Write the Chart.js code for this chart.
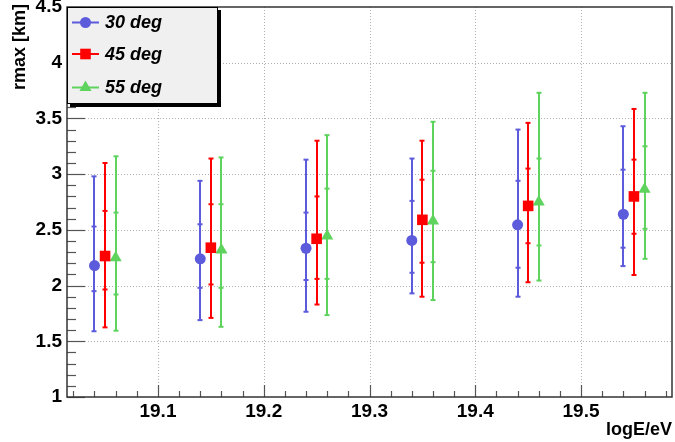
<!DOCTYPE html>
<html>
<head>
<meta charset="utf-8">
<script src="https://cdn.jsdelivr.net/npm/chart.js@4/dist/chart.umd.min.js"></script>
<style>
  html, body { margin: 0; padding: 0; background: #fff; }
  #wrap { width: 675px; height: 442px; }
</style>
</head>
<body>
<div id="wrap"><canvas id="c" width="675" height="442"></canvas></div>
<script>
// bin centres (logE/eV), each angle shifted a bit so the bars don't overlap
const energies = [19.05, 19.15, 19.25, 19.35, 19.45, 19.55];
const shifts = [-0.01, 0, 0.01];
const angleLabels = ["30 deg", "45 deg", "55 deg"];

// rmax [km] per angle: mean, outer bar hi/lo, inner tick hi/lo
const r30 = [2.18, 2.24, 2.335, 2.405, 2.545, 2.64];
const r30Hi = [2.98, 2.94, 3.13, 3.14, 3.40, 3.43];
const r30Lo = [1.59, 1.69, 1.765, 1.93, 1.90, 2.175];
const r30InHi = [2.53, 2.55, 2.655, 2.76, 2.94, 3.04];
const r30InLo = [1.95, 1.98, 2.05, 2.115, 2.16, 2.34];

const r45 = [2.265, 2.34, 2.42, 2.59, 2.715, 2.80];
const r45Hi = [3.10, 3.14, 3.30, 3.30, 3.46, 3.585];
const r45Lo = [1.625, 1.71, 1.83, 1.90, 2.03, 2.095];
const r45InHi = [2.67, 2.73, 2.80, 2.95, 3.05, 3.13];
const r45InLo = [1.965, 2.01, 2.06, 2.205, 2.38, 2.465];

const r55 = [2.25, 2.32, 2.445, 2.58, 2.75, 2.865];
const r55Hi = [3.16, 3.15, 3.35, 3.47, 3.73, 3.73];
const r55Lo = [1.595, 1.63, 1.735, 1.87, 2.045, 2.24];
const r55InHi = [2.655, 2.73, 2.87, 3.03, 3.14, 3.25];
const r55InLo = [1.92, 1.98, 2.06, 2.21, 2.36, 2.51];

const xTicks = [19.1, 19.2, 19.3, 19.4, 19.5];
const yTicks = [1, 1.5, 2, 2.5, 3, 3.5, 4, 4.5];

const FONT = "'Liberation Sans', Arial, Helvetica, sans-serif";
const colors = ["#5b5bdc", "#ff0000", "#5ed35e"];
const styles = ["circle", "rect", "triangle"];
const radii = [5.5, 7.5, 7];

const series = [
  { mean: r30, hi: r30Hi, lo: r30Lo, inHi: r30InHi, inLo: r30InLo },
  { mean: r45, hi: r45Hi, lo: r45Lo, inHi: r45InHi, inLo: r45InLo },
  { mean: r55, hi: r55Hi, lo: r55Lo, inHi: r55InHi, inLo: r55InLo },
];

const datasets = series.map((s, i) => ({
  label: angleLabels[i],
  data: s.mean.map((v, k) => ({ x: energies[k] + shifts[i], y: v })),
  pointStyle: styles[i],
  pointRadius: radii[i],
  pointHoverRadius: radii[i],
  backgroundColor: colors[i],
  borderColor: colors[i],
  borderWidth: 0,
  showLine: false,
  errs: s,
}));

// ROOT-like frame, dotted grid and inside ticks
const framePlugin = {
  id: "frame",
  beforeDatasetsDraw(chart) {
    const { ctx, chartArea: a, scales: { x, y } } = chart;
    ctx.save();
    ctx.strokeStyle = "#b0b0b0";
    ctx.lineWidth = 1;
    ctx.setLineDash([1, 2]);
    xTicks.forEach((v) => {
      const px = Math.round(x.getPixelForValue(v)) + 0.5;
      ctx.beginPath(); ctx.moveTo(px, a.top); ctx.lineTo(px, a.bottom); ctx.stroke();
    });
    yTicks.slice(1, -1).forEach((v) => {
      const py = Math.round(y.getPixelForValue(v)) + 0.5;
      ctx.beginPath(); ctx.moveTo(a.left, py); ctx.lineTo(a.right, py); ctx.stroke();
    });
    ctx.setLineDash([]);

    ctx.strokeStyle = "#555";
    ctx.lineWidth = 1.2;
    for (let k = 0; k <= 30; k++) {
      const v = 19.02 + k * 0.02;
      if (v > x.max + 1e-9) break;
      const major = Math.abs(v * 10 - Math.round(v * 10)) < 1e-6;
      const px = Math.round(x.getPixelForValue(v)) + 0.5;
      ctx.beginPath(); ctx.moveTo(px, a.bottom); ctx.lineTo(px, a.bottom - (major ? 12 : 6)); ctx.stroke();
    }
    for (let k = 0; k <= 35; k++) {
      const v = 1 + k * 0.1;
      const major = k % 5 === 0;
      const py = Math.round(y.getPixelForValue(v)) + 0.5;
      ctx.beginPath(); ctx.moveTo(a.left, py); ctx.lineTo(a.left + (major ? 18 : 9), py); ctx.stroke();
    }
    ctx.restore();
  },
  afterDatasetsDraw(chart) {
    const { ctx, chartArea: a } = chart;
    ctx.save();
    ctx.strokeStyle = "#333";
    ctx.lineWidth = 1.5;
    ctx.strokeRect(a.left, a.top, a.right - a.left, a.bottom - a.top);
    ctx.restore();
  },
};

// asymmetric error bars: full bar with caps plus small inner ticks
const errorBarPlugin = {
  id: "errbars",
  beforeDatasetsDraw(chart) {
    const { ctx, scales: { x, y } } = chart;
    ctx.save();
    chart.data.datasets.forEach((ds) => {
      const e = ds.errs;
      ctx.strokeStyle = ds.borderColor;
      ctx.lineWidth = 2;
      ds.data.forEach((p, k) => {
        const px = Math.round(x.getPixelForValue(p.x));
        const yh = y.getPixelForValue(e.hi[k]);
        const yl = y.getPixelForValue(e.lo[k]);
        ctx.beginPath(); ctx.moveTo(px, yh); ctx.lineTo(px, yl); ctx.stroke();
        [e.hi[k], e.lo[k], e.inHi[k], e.inLo[k]].forEach((v) => {
          const py = y.getPixelForValue(v);
          ctx.beginPath(); ctx.moveTo(px - 2.5, py); ctx.lineTo(px + 2.5, py); ctx.stroke();
        });
      });
    });
    ctx.restore();
  },
};

// axis titles and the boxed legend in the top-left corner
const annotPlugin = {
  id: "annot",
  afterDraw(chart) {
    const { ctx, chartArea: a } = chart;
    ctx.save();
    ctx.fillStyle = "#000";
    ctx.font = `bold 18px ${FONT}`;
    ctx.textAlign = "right";
    ctx.textBaseline = "alphabetic";
    ctx.fillText("logE/eV", 672, 435);

    ctx.translate(25, 4);
    ctx.rotate(-Math.PI / 2);
    ctx.textAlign = "right";
    ctx.fillText("rmax [km]", 0, 0);
    ctx.restore();

    // legend
    ctx.save();
    const bx = a.left, by = a.top, bw = 151, bh = 97;
    ctx.fillStyle = "#000";
    ctx.fillRect(bx + 3, by + 3, bw, bh);
    ctx.fillStyle = "#f0f0f0";
    ctx.fillRect(bx, by, bw, bh);
    ctx.strokeStyle = "#000";
    ctx.lineWidth = 1;
    ctx.strokeRect(bx + 0.5, by + 0.5, bw - 1, bh - 1);
    const rows = [15.5, 47, 80.5];
    chart.data.datasets.forEach((ds, i) => {
      const yy = by + rows[i];
      ctx.strokeStyle = ds.borderColor;
      ctx.lineWidth = 2;
      ctx.beginPath(); ctx.moveTo(bx + 5, yy); ctx.lineTo(bx + 32, yy); ctx.stroke();
      ctx.fillStyle = ds.backgroundColor;
      Chart.helpers.drawPoint(ctx, { pointStyle: ds.pointStyle, radius: ds.pointRadius, borderWidth: 0 }, bx + 18.5, yy);
      ctx.fillStyle = "#000";
      ctx.font = `italic bold 18px ${FONT}`;
      ctx.textAlign = "left";
      ctx.textBaseline = "middle";
      ctx.fillText(ds.label, bx + 38, yy + 1);
    });
    ctx.restore();
  },
};

const chart = new Chart(document.getElementById("c"), {
  type: "scatter",
  data: { datasets },
  options: {
    responsive: false,
    animation: false,
    events: [],
    layout: { padding: 0 },
    plugins: { legend: { display: false }, tooltip: { enabled: false } },
    scales: {
      x: {
        type: "linear",
        min: 19.014,
        max: 19.586,
        afterBuildTicks: (s) => { s.ticks = xTicks.map((v) => ({ value: v })); },
        afterFit: (s) => { s.height = 45; },
        grid: { display: false, drawTicks: false, tickLength: 0 },
        border: { display: false },
        ticks: {
          padding: 3,
          color: "#000",
          font: { family: FONT, size: 19, weight: "bold" },
          callback: (v) => v.toFixed(1),
        },
      },
      y: {
        type: "linear",
        min: 1,
        max: 4.5,
        afterBuildTicks: (s) => { s.ticks = yTicks.map((v) => ({ value: v })); },
        afterFit: (s) => { s.width = 67; },
        grid: { display: false, drawTicks: false, tickLength: 0 },
        border: { display: false },
        ticks: {
          padding: 5,
          color: "#000",
          font: { family: FONT, size: 19, weight: "bold" },
          callback: (v) => String(v),
        },
      },
    },
  },
  plugins: [
    {
      id: "fixArea",
      // keep the ROOT frame at a fixed place regardless of label padding
      afterLayout(c) {
        const a = c.chartArea;
        a.top = 7; a.bottom = 397; a.left = 67; a.right = 672;
        a.width = a.right - a.left; a.height = a.bottom - a.top;
        const { x, y } = c.scales;
        x.left = a.left; x.right = a.right; x.width = a.width; x.top = a.bottom; x.bottom = 442; x.height = 45;
        y.top = a.top; y.bottom = a.bottom; y.height = a.height; y.left = 0; y.right = a.left; y.width = a.left;
        x.configure(); y.configure();
      },
    },
    framePlugin, errorBarPlugin, annotPlugin,
  ],
});
</script>
</body>
</html>
